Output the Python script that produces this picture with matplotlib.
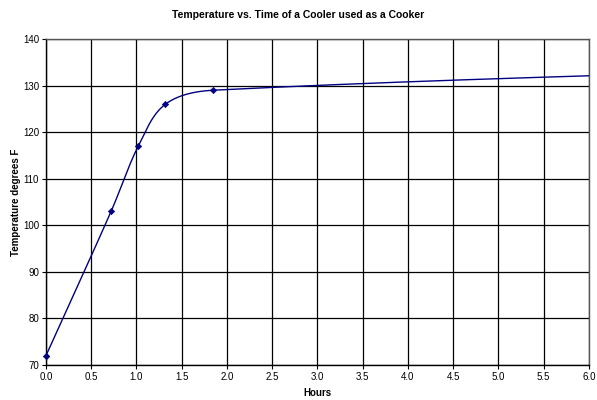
import matplotlib

matplotlib.use("Agg")
import matplotlib.pyplot as plt
import numpy as np

plt.rcParams["font.family"] = ["Liberation Sans", "DejaVu Sans"]

# readings taken from the chart (last point lies beyond the visible x range)
hours = [0.0, 0.72, 1.02, 1.32, 1.85, 10.0]
temps = [72, 103, 117, 126, 129, 134.5]

x_ticks = [0.0, 0.5, 1.0, 1.5, 2.0, 2.5, 3.0, 3.5, 4.0, 4.5, 5.0, 5.5, 6.0]
y_ticks = [70, 80, 90, 100, 110, 120, 130, 140]

NAVY = "#000080"


def smooth_line(xs, ys, xscale=19.5, n=80):
    # bezier smoothing, tangents scaled by neighbouring segment lengths
    p = np.column_stack([np.asarray(xs, float) * xscale, np.asarray(ys, float)])
    m = len(p)
    tang = []
    for i in range(m):
        a = p[i - 1] if i > 0 else p[i]
        b = p[i + 1] if i < m - 1 else p[i]
        d = b - a
        tang.append(d / (np.linalg.norm(d) or 1.0))
    out = []
    for i in range(m - 1):
        p1, p2 = p[i], p[i + 1]
        L = np.linalg.norm(p2 - p1) / 3.0
        c1 = p1 + tang[i] * L
        c2 = p2 - tang[i + 1] * L
        t = np.linspace(0, 1, n)[:, None]
        seg = ((1 - t) ** 3) * p1 + 3 * ((1 - t) ** 2) * t * c1 + 3 * (1 - t) * t ** 2 * c2 + t ** 3 * p2
        out.append(seg)
    pts = np.vstack(out)
    return pts[:, 0] / xscale, pts[:, 1]


fig = plt.figure(figsize=(5.97, 4.0), dpi=100)
ax = fig.add_axes([0.077, 0.0875, 0.9095, 0.815])

sx, sy = smooth_line(hours, temps)
ax.plot(sx, sy, color=NAVY, lw=1.0, zorder=3)
ax.plot(hours, temps, ls="none", marker="D", ms=3.2, mew=0.5, color=NAVY, zorder=4)
# first marker sits on the axis edge; let it show fully
ax.plot(hours[:1], temps[:1], ls="none", marker="D", ms=3.2, mew=0.5, color=NAVY,
        zorder=4, clip_on=False)

ax.set_xlim(0, 6)
ax.set_ylim(70, 140)
ax.set_xticks(x_ticks)
ax.set_xticklabels([f"{v:.1f}" for v in x_ticks])
ax.set_yticks(y_ticks)
ax.grid(True, color="black", lw=0.9)
ax.set_axisbelow(True)
for s in ax.spines.values():
    s.set_color("#555555")
    s.set_linewidth(1.0)
ax.spines["left"].set_color("black")
ax.spines["bottom"].set_color("black")
ax.tick_params(labelsize=7, length=3, width=0.8, pad=2)

ax.set_xlabel("Hours", fontsize=7, fontweight="bold", labelpad=4)
ax.set_ylabel("Temperature degrees F", fontsize=7, fontweight="bold", labelpad=1.5)
fig.suptitle("Temperature vs. Time of a Cooler used as a Cooker",
             fontsize=7.5, fontweight="bold", y=0.975)

fig.savefig("out.png", dpi=100)
